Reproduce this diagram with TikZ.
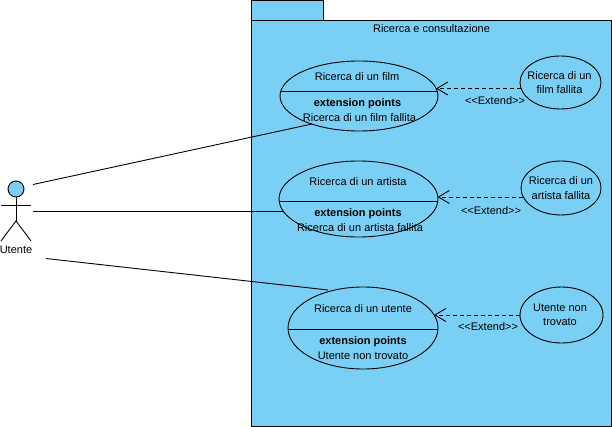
\documentclass[tikz,border=0pt]{standalone}
\usepackage{fontspec}
\setmainfont{Liberation Sans}
\usetikzlibrary{shapes.geometric,arrows.meta,calc}
\definecolor{pkgblue}{HTML}{7ACFF5}
\tikzset{
  diag/.style={line width=0.9pt,draw=black},
  case/.style={ellipse,diag,fill=pkgblue,inner sep=0pt,outer sep=0pt},
  lbl/.style={inner sep=0pt,outer sep=0pt,text=black,font=\fontsize{11}{13}\selectfont,align=center},
  boldlbl/.style={lbl,font=\fontsize{11}{13}\selectfont\bfseries},
  ext/.style={diag,dashed,dash pattern=on 4pt off 3pt,-{Straight Barb[length=11pt,width=13pt,line width=0.9pt]}},
  assoc/.style={diag}
}
\begin{document}
\begin{tikzpicture}[x=1pt,y=-1pt]
\useasboundingbox (0,0) rectangle (612,427);
% package
\draw[diag,fill=pkgblue] (251.5,0.5) rectangle (323.5,20.5);
\draw[diag,fill=pkgblue] (251.5,20.5) rectangle (611.5,426.5);
\node[lbl] (pkg) at (431.5,28.5) {Ricerca e consultazione};
% use cases
\node[case,minimum width=158pt,minimum height=70pt] (e1) at (359,96) {};
\node[case,minimum width=159pt,minimum height=76pt] (e2) at (358.5,199) {};
\node[case,minimum width=150pt,minimum height=82pt] (e3) at (363,328) {};
\draw[diag] ($(e1.center)+(-78.2,-5)$) -- ($(e1.center)+(78.2,-5)$);
\draw[diag] ($(e2.center)+(-79.4,2)$) -- ($(e2.center)+(79.4,2)$);
\draw[diag] ($(e3.center)+(-75,1)$) -- ($(e3.center)+(75,1)$);
\node[lbl] (t1) at (357,76.5) {Ricerca di un film};
\node[boldlbl] (b1) at (357.5,103.5) {extension points};
\node[lbl] (p1) at (359.5,118) {Ricerca di un film fallita};
\node[lbl] (t2) at (358,181.5) {Ricerca di un artista};
\node[boldlbl] (b2) at (358,213.5) {extension points};
\node[lbl] (p2) at (360,228) {Ricerca di un artista fallita};
\node[lbl] (t3) at (363,308.5) {Ricerca di un utente};
\node[boldlbl] (b3) at (363,341.5) {extension points};
\node[lbl] (p3) at (363,356) {Utente non trovato};
% extensions
\node[case,minimum width=81pt,minimum height=53pt] (f1) at (560.5,82.5) {};
\node[case,minimum width=80pt,minimum height=54pt] (f2) at (561,188) {};
\node[case,minimum width=83pt,minimum height=56pt] (f3) at (561.5,315) {};
\node[lbl] (f1t) at (559.5,82.5) {Ricerca di un\\[1.5pt]film fallita};
\node[lbl] (f2t) at (561,188) {Ricerca di un\\[1.5pt]artista fallita};
\node[lbl] (f3t) at (560,315) {Utente non\\[1.5pt]trovato};
\draw[ext] ($(f1.center)+(-39.4,6)$) -- ($(e1.center)+(77,-7.5)$);
\draw[ext] ($(f2.center)+(-37.7,9)$) -- ($(e2.center)+(79,-2)$);
\draw[ext] (f3.west) -- ($(e3.center)+(71,-13)$);
\node[lbl] (x1) at (495,100.5) {<{}<Extend>{}>};
\node[lbl] (x2) at (491,210.5) {<{}<Extend>{}>};
\node[lbl] (x3) at (488,326.5) {<{}<Extend>{}>};
% actor
\node[circle,diag,fill=pkgblue,minimum size=16pt,inner sep=0pt,outer sep=0pt] (head) at (16,189) {};
\coordinate (hip) at (16,221);
\coordinate (armL) at (1,205);
\coordinate (armR) at (31,205);
\coordinate (legL) at (1,241);
\coordinate (legR) at (31,241);
\draw[diag] (head.south) -- (hip);
\draw[diag] (armL) -- (armR);
\draw[diag] (legL) -- (hip) -- (legR);
\node[lbl] (utente) at (16,249.5) {Utente};
% associations
\coordinate (a1) at (33,184.5);
\coordinate (a2) at (33,211);
\coordinate (a3) at (46,258.5);
\draw[assoc] (a1) -- ($(e1.center)+(-47,28)$);
\draw[assoc] (a2) -- ($(e2.center)+(-74.5,12)$);
\draw[assoc] (a3) -- ($(e3.center)+(-35,-38)$);
\end{tikzpicture}
\end{document}
